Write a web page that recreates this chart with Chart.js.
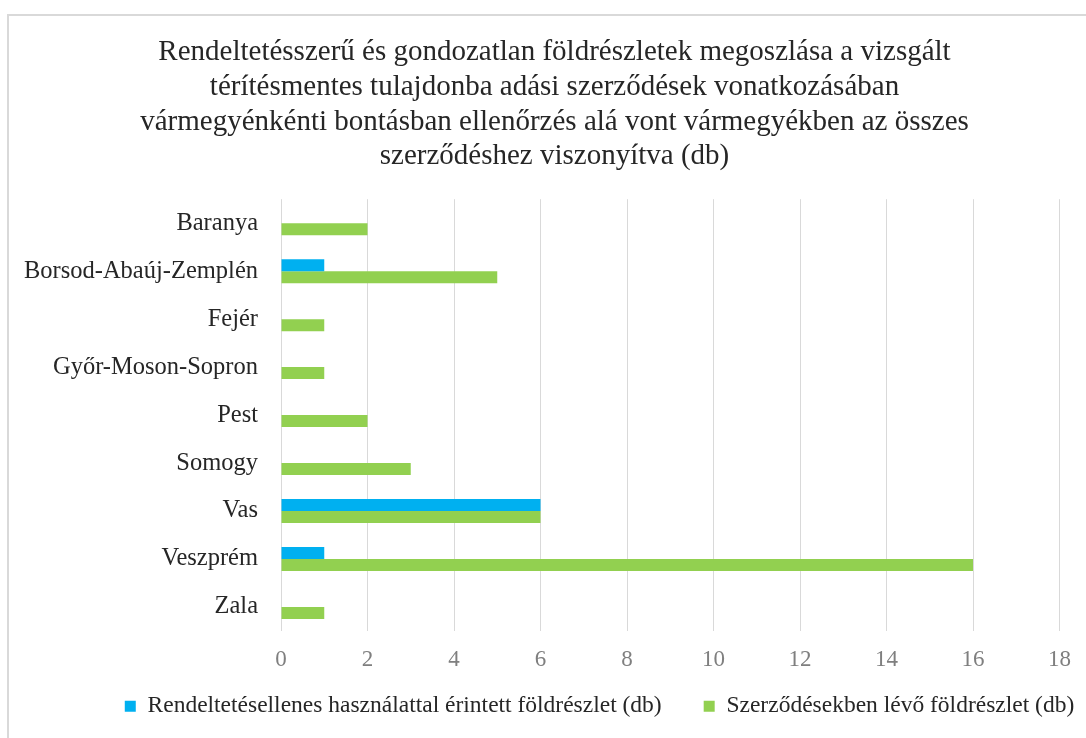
<!DOCTYPE html>
<html>
<head>
<meta charset="utf-8">
<script src="https://cdn.jsdelivr.net/npm/chart.js@4"></script>
<style>
  html, body { margin: 0; padding: 0; background: #fff; overflow: hidden; }
  #frame { position: absolute; left: 7px; top: 14px; width: 1100px; height: 740px; border: 2px solid #d9d9d9; box-sizing: border-box; }
  #wrap { position: absolute; left: 0; top: 0; width: 1086px; height: 738px; }
</style>
</head>
<body>
<div id="frame"></div>
<div id="wrap"><canvas id="chart"></canvas></div>
<script>
const counties = ['Baranya', 'Borsod-Abaúj-Zemplén', 'Fejér', 'Győr-Moson-Sopron', 'Pest', 'Somogy', 'Vas', 'Veszprém', 'Zala'];
const misuseParcels = [0, 1, 0, 0, 0, 0, 6, 1, 0];
const contractParcels = [2, 5, 1, 1, 2, 3, 6, 16, 1];
const seriesNames = ['Rendeltetésellenes használattal érintett földrészlet (db)', 'Szerződésekben lévő földrészlet (db)'];
const titleLines = [
    'Rendeltetésszerű és gondozatlan földrészletek megoszlása a vizsgált',
    'térítésmentes tulajdonba adási szerződések vonatkozásában',
    'vármegyénkénti bontásban ellenőrzés alá vont vármegyékben az összes',
    'szerződéshez viszonyítva (db)'
];
const xMax = 18;
const xStep = 2;

const blue = '#00B0F0';
const green = '#92D050';
const serif = "'Liberation Serif', 'Times New Roman', serif";

// the original centres title and legend a bit right of the plot's centre,
// and its legend sits closer to the axis than Chart.js would put it
const nudgeBoxes = {
    id: 'nudgeBoxes',
    afterLayout(chart) {
        const t = chart.titleBlock, l = chart.legend;
        t.left += 24;
        t.right += 24;
        l.left += 69;
        l.right += 69;
        const h = l.bottom - l.top;
        l.top = 652.5;
        l.bottom = l.top + h;
    }
};

new Chart(document.getElementById('chart'), {
    type: 'bar',
    data: {
        labels: counties,
        datasets: [
            { label: seriesNames[0], data: misuseParcels, backgroundColor: blue },
            { label: seriesNames[1], data: contractParcels, backgroundColor: green }
        ]
    },
    options: {
        indexAxis: 'y',
        responsive: true,
        maintainAspectRatio: false,
        animation: false,
        datasets: { bar: { categoryPercentage: 0.5, barPercentage: 1.0 } },
        layout: { padding: { left: 0, right: 25, top: 0, bottom: -18.5 } },
        plugins: {
            title: {
                display: true,
                text: titleLines,
                color: '#262626',
                font: { family: serif, size: 29, weight: 'normal', lineHeight: 1.2 },
                padding: { top: 35, bottom: 25 }
            },
            legend: {
                position: 'bottom',
                labels: {
                    color: '#262626',
                    font: { family: serif, size: 23.5 },
                    boxWidth: 11,
                    boxHeight: 11,
                    padding: 42
                }
            },
            tooltip: { enabled: false }
        },
        scales: {
            x: {
                min: 0,
                max: xMax,
                ticks: { stepSize: xStep, color: '#7f7f7f', font: { family: serif, size: 23 }, padding: 15 },
                grid: { color: '#d9d9d9', drawTicks: false },
                border: { display: false },
                afterFit: (scale) => { scale.height = 50; }
            },
            y: {
                ticks: { color: '#262626', font: { family: serif, size: 24.5 }, padding: 23 },
                grid: { display: false, drawTicks: false },
                border: { display: false },
                afterFit: (scale) => { scale.width = 281; }
            }
        }
    },
    plugins: [nudgeBoxes]
});
</script>
</body>
</html>
